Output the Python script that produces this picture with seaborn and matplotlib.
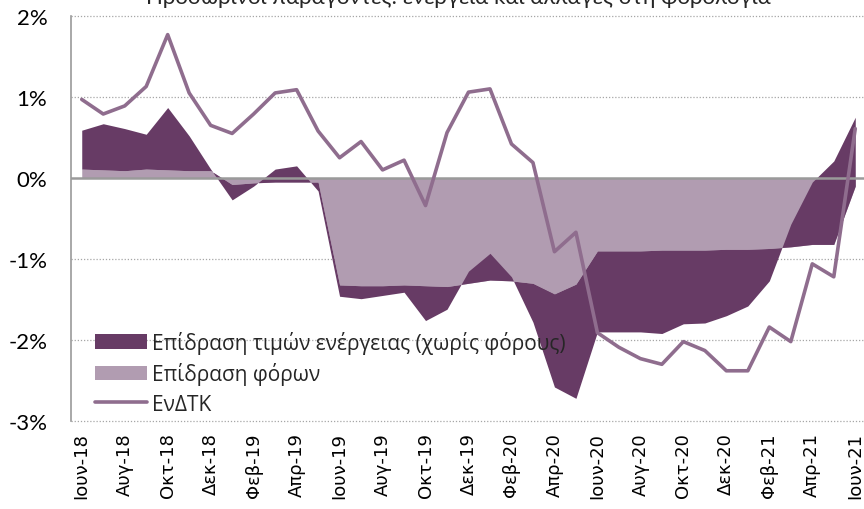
import matplotlib
matplotlib.use("Agg")
import matplotlib.pyplot as plt
import seaborn as sns
import numpy as np
import pandas as pd
from matplotlib.patches import Patch
from matplotlib.lines import Line2D

# ---- data (percent) ----
months = ["Ιουν-18", "Ιουλ-18", "Αυγ-18", "Σεπ-18", "Οκτ-18", "Νοε-18", "Δεκ-18",
          "Ιαν-19", "Φεβ-19", "Μαρ-19", "Απρ-19", "Μαϊ-19", "Ιουν-19", "Ιουλ-19",
          "Αυγ-19", "Σεπ-19", "Οκτ-19", "Νοε-19", "Δεκ-19", "Ιαν-20", "Φεβ-20",
          "Μαρ-20", "Απρ-20", "Μαϊ-20", "Ιουν-20", "Ιουλ-20", "Αυγ-20", "Σεπ-20",
          "Οκτ-20", "Νοε-20", "Δεκ-20", "Ιαν-21", "Φεβ-21", "Μαρ-21", "Απρ-21",
          "Μαϊ-21", "Ιουν-21"]

tax_effect = [0.11, 0.10, 0.09, 0.11, 0.10, 0.09, 0.09, -0.08, -0.06, -0.05, -0.05,
              -0.05, -1.32, -1.33, -1.33, -1.32, -1.33, -1.34, -1.30, -1.26, -1.27,
              -1.30, -1.43, -1.31, -0.90, -0.90, -0.90, -0.89, -0.89, -0.89, -0.88,
              -0.88, -0.87, -0.85, -0.82, -0.82, -0.10]

energy_effect = [0.48, 0.57, 0.52, 0.43, 0.77, 0.43, 0.02, -0.19, -0.04, 0.16, 0.20,
                 -0.11, -0.14, -0.16, -0.12, -0.09, -0.43, -0.28, 0.15, 0.33, 0.05,
                 -0.48, -1.15, -1.41, -1.00, -1.00, -1.00, -1.03, -0.91, -0.90, -0.82,
                 -0.70, -0.40, 0.28, 0.77, 1.03, 0.85]

hicp = [0.97, 0.79, 0.89, 1.13, 1.77, 1.05, 0.65, 0.55, 0.79, 1.05, 1.09, 0.58, 0.25,
        0.45, 0.10, 0.22, -0.34, 0.56, 1.06, 1.10, 0.42, 0.19, -0.91, -0.67, -1.91,
        -2.09, -2.23, -2.30, -2.02, -2.13, -2.38, -2.38, -1.84, -2.02, -1.06, -1.22,
        0.61]

yticks = [-3, -2, -1, 0, 1, 2]
ytick_labels = ["-3%", "-2%", "-1%", "0%", "1%", "2%"]

title = "Προσωρινοί παράγοντες: ενέργεια και αλλαγές στη φορολογία"
lbl_energy = "Επίδραση τιμών ενέργειας (χωρίς φόρους)"
lbl_tax = "Επίδραση φόρων"
lbl_hicp = "ΕνΔΤΚ"

# ---- styling ----
c_dark = "#673B65"
c_light = "#B19CB1"
c_line = "#8F6D8E"

sns.set_theme(style="white")
plt.rcParams["font.family"] = ["DejaVu Sans"]

df = pd.DataFrame({"idx": np.arange(len(months)), "month": months,
                   "tax": tax_effect, "energy": energy_effect, "hicp": hicp})
df["total"] = df["tax"] + df["energy"]

fig = plt.figure(figsize=(8.64, 5.10), dpi=100)
ax = fig.add_axes([71 / 864, 1 - 422 / 510, 795 / 864, (422 - 17) / 510])

ax.fill_between(df["idx"], 0, df["tax"], color=c_light, linewidth=0, zorder=2)
ax.fill_between(df["idx"], df["tax"], df["total"], color=c_dark, linewidth=0, zorder=3)
ax.axhline(0, color="#9a9a9a", linewidth=1.8, zorder=4)
sns.lineplot(data=df, x="idx", y="hicp", ax=ax, color=c_line, linewidth=2.6,
             zorder=5, legend=False)

ax.set_xlim(-0.5, len(months) - 0.5)
ax.set_ylim(-3, 2)
for y in yticks:
    if y != 0:
        ax.axhline(y, color="#a6a6a6", linewidth=0.9, linestyle=(0, (1, 1.5)), zorder=1,
                   clip_on=False)
ax.set_yticks(yticks)
ax.set_yticklabels(ytick_labels, fontsize=16, family="Lato")
ax.set_xticks(df["idx"][::2])
ax.set_xticklabels(df["month"][::2], rotation=90, fontsize=13)
ax.tick_params(axis="y", length=0, pad=17, colors="black")
ax.tick_params(axis="x", length=0, pad=8, colors="black")
ax.set_xlabel("")
ax.set_ylabel("")
for s in ["top", "right", "bottom"]:
    ax.spines[s].set_visible(False)
ax.spines["left"].set_color("#9a9a9a")
ax.spines["left"].set_linewidth(1.2)

handles = [Patch(facecolor=c_dark, edgecolor="none"),
           Patch(facecolor=c_light, edgecolor="none"),
           Line2D([0], [0], color=c_line, linewidth=2.6)]
fig.legend(handles, [lbl_energy, lbl_tax, lbl_hicp], loc="upper left",
           bbox_to_anchor=(95 / 864, 1 - 332 / 510), frameon=False,
           prop={"family": "Open Sans", "size": 15}, handlelength=2.5,
           handleheight=0.7, labelspacing=0.40, handletextpad=0.25,
           borderaxespad=0, borderpad=0)

fig.text(0.53, 1 - 4 / 510, title, ha="center", va="baseline",
         fontsize=16, family="Lato")

fig.savefig("out.png", dpi=100)
